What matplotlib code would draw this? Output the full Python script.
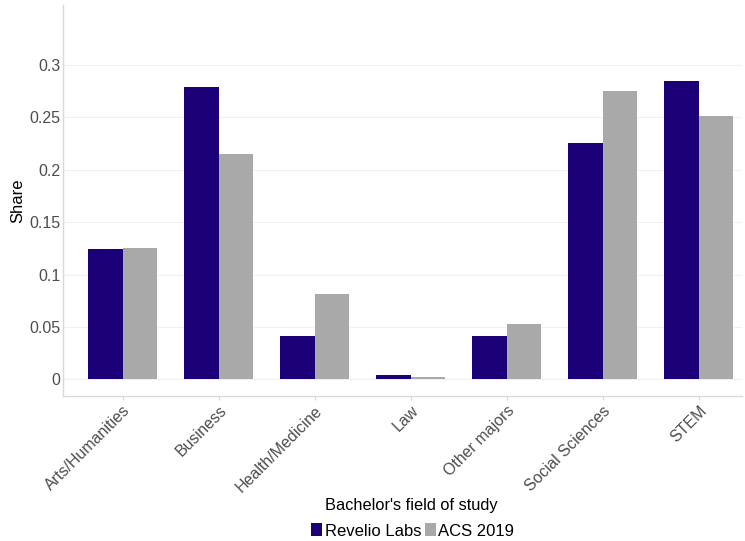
import matplotlib
matplotlib.use("Agg")
import matplotlib.pyplot as plt
import numpy as np
from matplotlib.patches import Patch

categories = ["Arts/Humanities", "Business", "Health/Medicine", "Law",
              "Other majors", "Social Sciences", "STEM"]
revelio = [0.124, 0.279, 0.041, 0.0045, 0.041, 0.226, 0.285]
acs = [0.125, 0.215, 0.081, 0.002, 0.053, 0.275, 0.251]
series_names = ["Revelio Labs", "ACS 2019"]
yticks = [0, 0.05, 0.1, 0.15, 0.2, 0.25, 0.3]
yticklabels = ["0", "0.05", "0.1", "0.15", "0.2", "0.25", "0.3"]

plt.rcParams['font.family'] = ['Liberation Sans', 'DejaVu Sans']

fig = plt.figure(figsize=(7.45, 5.41), dpi=100)
ax = fig.add_axes([0.085, 0.268, 0.911, 0.722])

x = np.arange(len(categories))
w = 0.36
c1, c2 = "#1b0078", "#a9a9a9"
ax.bar(x - w / 2, revelio, width=w, color=c1, zorder=3)
ax.bar(x + w / 2, acs, width=w, color=c2, zorder=3)

ax.set_xlim(-0.62, 6.45)
ax.set_ylim(-0.016, 0.357)
ax.set_yticks(yticks)
ax.set_yticklabels(yticklabels)
ax.set_xticks(x)
ax.set_xticklabels(categories, rotation=45, ha="right", rotation_mode="anchor")

ax.grid(axis="y", color="#f0f0f0", linewidth=0.8, zorder=0)
ax.set_axisbelow(True)
for s in ["top", "right"]:
    ax.spines[s].set_visible(False)
for s in ["left", "bottom"]:
    ax.spines[s].set_color("#d9d9d9")
    ax.spines[s].set_linewidth(1.0)

ax.tick_params(axis="y", length=0, labelsize=11.5, labelcolor="#4d4d4d", pad=2)
ax.tick_params(axis="x", length=3, color="#d9d9d9", labelsize=11.5, labelcolor="#4d4d4d", pad=2)

ax.set_ylabel("Share", fontsize=12, color="black", labelpad=3)
fig.text(0.552, 0.0665, "Bachelor's field of study", ha="center", va="center", fontsize=11.8)

handles = [Patch(facecolor=c1), Patch(facecolor=c2)]
fig.legend(handles, series_names, loc="center", bbox_to_anchor=(0.554, 0.0185), ncol=2,
           frameon=False, fontsize=12, handlelength=0.66, handleheight=0.8,
           handletextpad=0.15, columnspacing=0.2, borderpad=0, borderaxespad=0)

fig.savefig("out.png", dpi=100, facecolor="white")
